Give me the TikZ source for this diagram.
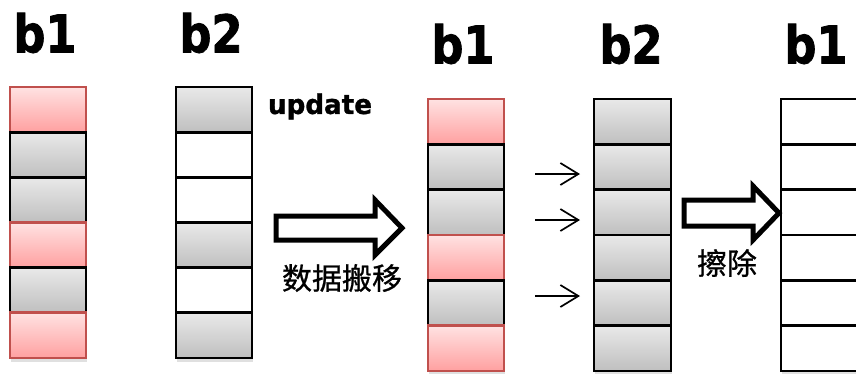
\documentclass[tikz,border=0pt]{standalone}
\usepackage{fontspec}
\usepackage{graphicx}
\setmainfont{DejaVu Sans}
\newfontfamily\headfont[FakeBold=1.6]{DejaVu Sans Bold}
\newfontfamily\tagfont[FakeBold=1.2]{DejaVu Sans Bold}
\newfontfamily\cjkfont[FakeBold=0.8]{Noto Sans CJK SC}
\usetikzlibrary{arrows.meta}
\definecolor{cellred}{HTML}{C0504D}
\definecolor{redtop}{HTML}{FFE2E2}
\definecolor{redbot}{HTML}{FFA0A0}
\definecolor{graytop}{HTML}{E9E9E9}
\definecolor{graybot}{HTML}{BFBFBF}
\begin{document}
\begin{tikzpicture}[x=1pt,y=-1pt,
  cell/.style={minimum width=76pt, minimum height=45.3pt, inner sep=0pt,
    line width=2.8pt, draw=black},
  redcell/.style={cell, draw=cellred, top color=redtop, bottom color=redbot},
  graycell/.style={cell, top color=graytop, bottom color=graybot},
  whitecell/.style={cell, fill=white},
  widewhite/.style={whitecell, minimum width=80pt},
  title/.style={inner sep=0pt, font=\headfont\fontsize{52}{52}\selectfont},
  tag/.style={inner sep=0pt, font=\tagfont\fontsize{27}{27}\selectfont},
  cjk/.style={inner sep=0pt, font=\cjkfont\fontsize{30}{30}\selectfont},
  hollow/.style={draw=black, fill=white, line width=5pt, miter limit=10},
  pointer/.style={draw=black, line width=1.7pt,
    -{Straight Barb[length=18pt,width=22pt,line width=1.7pt]}}]
\clip (0,0) rectangle (856,373);
\fill[white] (0,0) rectangle (856,373);

% soft shadows under the columns
\foreach \x/\y/\w in {48/87/76, 214/87/76, 466/99/76, 632.5/99/77, 821/99/80}
  \fill[black, opacity=0.12] ({\x-\w/2+1},{\y+3}) rectangle ({\x+\w/2+1},{\y+275});

% buffer columns, drawn top to bottom so each cell covers the one above
\foreach \s [count=\i] in {redcell,graycell,graycell,redcell,graycell,redcell}
  \node[style=\s] (a\i) at (48,{87+45.17*(\i-0.5)}) {};
\foreach \s [count=\i] in {graycell,whitecell,whitecell,graycell,whitecell,graycell}
  \node[style=\s] (b\i) at (214,{87+45.17*(\i-0.5)}) {};
\foreach \s [count=\i] in {redcell,graycell,graycell,redcell,graycell,redcell}
  \node[style=\s] (c\i) at (466,{99+45.33*(\i-0.5)}) {};
\foreach \i in {1,...,6}
  \node[graycell, minimum width=77pt] (d\i) at (632.5,{99+45.33*(\i-0.5)}) {};
\foreach \i in {1,...,6}
  \node[widewhite] (e\i) at (821,{99+45.33*(\i-0.5)}) {};

% column titles
\node[title] (ta) at (45,33) {\scalebox{0.86}[1]{b1}};
\node[title] (tb) at (211,33) {\scalebox{0.86}[1]{b2}};
\node[title] (tc) at (463,44) {\scalebox{0.86}[1]{b1}};
\node[title] (td) at (631,44) {\scalebox{0.86}[1]{b2}};
\node[title] (te) at (816,44) {\scalebox{0.86}[1]{b1}};

\node[tag] (upd) at (320,106.5) {\scalebox{0.97}[1]{update}};

% block arrows
\draw[hollow] (276,216) -- (375,216) -- (375,200) -- (402,228)
  -- (375,255) -- (375,240) -- (276,240) -- cycle;
\node[cjk] (move) at (342,278) {数据搬移};

\draw[hollow] (684,200) -- (753,200) -- (753,186) -- (779,213)
  -- (753,240) -- (753,226) -- (684,226) -- cycle;
\node[cjk] (erase) at (727,263) {擦除};

% pointers into b2
\coordinate (p1) at (535,174); \coordinate (q1) at (580,174);
\coordinate (p2) at (535,220); \coordinate (q2) at (580,220);
\coordinate (p3) at (535,296); \coordinate (q3) at (580,296);
\draw[pointer] (p1) -- (q1);
\draw[pointer] (p2) -- (q2);
\draw[pointer] (p3) -- (q3);
\end{tikzpicture}
\end{document}
